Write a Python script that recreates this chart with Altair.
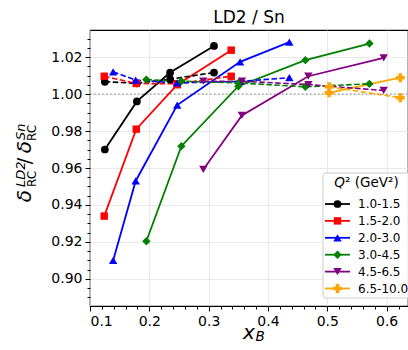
import altair as alt
import pandas as pd

series = ["1.0-1.5", "1.5-2.0", "2.0-3.0", "3.0-4.5", "4.5-6.5", "6.5-10.0"]
colors = ["#000000", "#ff0000", "#0000ff", "#008000", "#800080", "#ffa500"]
shapes = ["circle", "square", "triangle-up", "diamond", "triangle-down", "cross"]

x_vals = [
    [0.125, 0.179, 0.235, 0.309],
    [0.124, 0.178, 0.247, 0.338],
    [0.139, 0.177, 0.247, 0.353, 0.436],
    [0.195, 0.254, 0.350, 0.463, 0.571],
    [0.291, 0.356, 0.468, 0.595],
    [0.503, 0.623],
]
y_solid = [
    [0.970, 0.996, 1.0116, 1.026],
    [0.934, 0.981, 1.005, 1.0237],
    [0.910, 0.953, 0.994, 1.0174, 1.028],
    [0.9204, 0.9718, 1.0042, 1.0183, 1.0273],
    [0.9592, 0.9884, 1.0096, 1.0195],
    [1.0006, 1.0088],
]
y_dashed = [
    [1.0066, 1.0058, 1.0080, 1.0116],
    [1.0096, 1.0057, 1.0055, 1.0096],
    [1.012, 1.0075, 1.006, 1.0068, 1.0088],
    [1.0078, 1.0069, 1.006, 1.0039, 1.0055],
    [1.0069, 1.0069, 1.0051, 1.0019],
    [1.0039, 0.998],
]

x_ticks = [round(0.1 + 0.02 * i, 2) for i in range(27)]
y_ticks = [round(0.89 + 0.005 * i, 3) for i in range(30)]

rows = []
for s, xs, ys, yd in zip(series, x_vals, y_solid, y_dashed):
    for xv, a, b in zip(xs, ys, yd):
        rows.append({"series": s, "x": xv, "y": a, "kind": "solid"})
        rows.append({"series": s, "x": xv, "y": b, "kind": "dashed"})
df = pd.DataFrame(rows)
leg_df = pd.DataFrame({"series": series})

FONT = "DejaVu Sans"
xscale = alt.Scale(domain=[0.1, 0.636], nice=False, zero=False)
yscale = alt.Scale(domain=[0.8854, 1.0346], nice=False, zero=False)
cscale = alt.Scale(domain=series, range=colors)

x_major = "abs(datum.value*10 - round(datum.value*10)) < 0.001"
y_major = "abs(datum.value*50 - round(datum.value*50)) < 0.001"

x_axis = alt.Axis(
    values=x_ticks, tickCount=200, title=None,
    labelExpr=f"({x_major}) ? format(datum.value, '.1f') : ''",
    labelFontSize=14, labelFont=FONT, labelColor="#000", labelOverlap=False,
    tickSize={"condition": {"test": x_major, "value": 5}, "value": 3},
    gridOpacity={"condition": {"test": x_major, "value": 1}, "value": 0},
    gridColor="#e3e3e3", gridWidth=0.8, tickColor="#000", domain=False,
    labelPadding=3, orient="bottom",
)
y_axis = alt.Axis(
    values=y_ticks, tickCount=200, title=None,
    labelExpr=f"({y_major}) ? format(datum.value, '.2f') : ''",
    labelFontSize=14, labelFont=FONT, labelColor="#000", labelOverlap=False,
    tickSize={"condition": {"test": y_major, "value": 5}, "value": 3},
    gridOpacity={"condition": {"test": y_major, "value": 1}, "value": 0},
    gridColor="#e3e3e3", gridWidth=0.8, tickColor="#000", domain=False,
    labelPadding=3, orient="left",
)

base = alt.Chart(df)

ref = alt.Chart(pd.DataFrame({"y": [1.0]})).mark_rule(
    color="#808080", strokeDash=[1.5, 2.5], strokeWidth=1
).encode(
    x=alt.value(0), x2=alt.value(318),
    y=alt.Y("y:Q", scale=yscale, axis=y_axis),
)

solid = base.transform_filter("datum.kind == 'solid'").mark_line(strokeWidth=1.8).encode(
    x=alt.X("x:Q", scale=xscale, axis=x_axis),
    y=alt.Y("y:Q", scale=yscale),
    color=alt.Color("series:N", scale=cscale, legend=None),
    detail="series:N",
)
dashed = base.transform_filter("datum.kind == 'dashed'").mark_line(
    strokeWidth=1.6, strokeDash=[5.5, 2.5]
).encode(
    x=alt.X("x:Q", scale=xscale),
    y=alt.Y("y:Q", scale=yscale),
    color=alt.Color("series:N", scale=cscale, legend=None),
    detail="series:N",
)

sizes = [60, 55, 70, 70, 70, 80]
point_layers = []
for s, shp, sz in zip(series, shapes, sizes):
    point_layers.append(
        base.transform_filter(alt.datum.series == s).mark_point(
            shape=shp, filled=True, size=sz, opacity=1
        ).encode(
            x=alt.X("x:Q", scale=xscale),
            y=alt.Y("y:Q", scale=yscale),
            color=alt.Color("series:N", scale=cscale, legend=None),
        )
    )

# ---- legend (drawn as a panel of marks) ----
LX, LY, ROW = 233, 174, 16.9
one = pd.DataFrame({"t": ["Q", "² (GeV²)"]})
legend_layers = [
    alt.Chart(pd.DataFrame({"t": ["box"]})).mark_rect(
        fill="white", fillOpacity=0.85, stroke="#cccccc", strokeWidth=1, cornerRadius=3
    ).encode(x=alt.value(LX), x2=alt.value(LX + 92), y=alt.value(143), y2=alt.value(268)),
    alt.Chart(one).transform_filter("datum.t == 'Q'").mark_text(
        font=FONT, fontSize=13.5, fontStyle="italic", align="right", baseline="middle",
        color="#000"
    ).encode(text="t:N", x=alt.value(LX + 22), y=alt.value(153)),
    alt.Chart(one).transform_filter("datum.t != 'Q'").mark_text(
        font=FONT, fontSize=13.5, align="left", baseline="middle", color="#000"
    ).encode(text="t:N", x=alt.value(LX + 22), y=alt.value(153)),
]
for i, (s, shp, sz) in enumerate(zip(series, shapes, sizes)):
    row = alt.Chart(leg_df).transform_filter(alt.datum.series == s)
    yy = LY + ROW * i
    legend_layers += [
        row.mark_rule(strokeWidth=1.8).encode(
            x=alt.value(LX + 2), x2=alt.value(LX + 27), y=alt.value(yy),
            color=alt.Color("series:N", scale=cscale, legend=None),
        ),
        row.mark_point(shape=shp, filled=True, size=sz, opacity=1).encode(
            x=alt.value(LX + 14.5), y=alt.value(yy),
            color=alt.Color("series:N", scale=cscale, legend=None),
        ),
        row.mark_text(font=FONT, fontSize=12, align="left", baseline="middle",
                      color="#000").encode(
            text="series:N", x=alt.value(LX + 35), y=alt.value(yy),
        ),
    ]

def txt(t, x, y, size, style="normal", angle=0, align="center"):
    return alt.Chart(pd.DataFrame({"t": [t]})).mark_text(
        font=FONT, fontSize=size, fontStyle=style, angle=angle, align=align,
        baseline="middle", color="#000",
    ).encode(text="t:N", x=alt.value(x), y=alt.value(y))

labels = [
    txt("x", 159, 303, 20, "italic"),
    txt("B", 170, 307, 13.5, "italic"),
    txt("δ", -65, 166, 20, "italic", 270),
    txt("LD2", -69, 157, 13, "italic", 270, "left"),
    txt("RC", -58.5, 157, 12, "normal", 270, "left"),
    txt("/", -65, 131, 19, "normal", 270),
    txt("δ", -65, 117, 20, "italic", 270),
    txt("Sn", -69, 110, 13, "italic", 270, "left"),
    txt("RC", -58.5, 111, 12, "normal", 270, "left"),
]

chart = alt.layer(
    ref, solid, dashed, *point_layers, *legend_layers, *labels
).properties(
    width=318, height=276,
    title=alt.Title("LD2 / Sn", fontSize=17, fontWeight="normal", font=FONT,
                    color="#000", anchor="middle", offset=3),
    autosize=alt.AutoSizeParams(type="none"),
    padding={"left": 90, "top": 30, "right": 0, "bottom": 44},
    background="white",
).configure_view(stroke="#000", strokeWidth=1.2)

chart.save("out.html", embed_options={"renderer": "svg", "actions": False})
